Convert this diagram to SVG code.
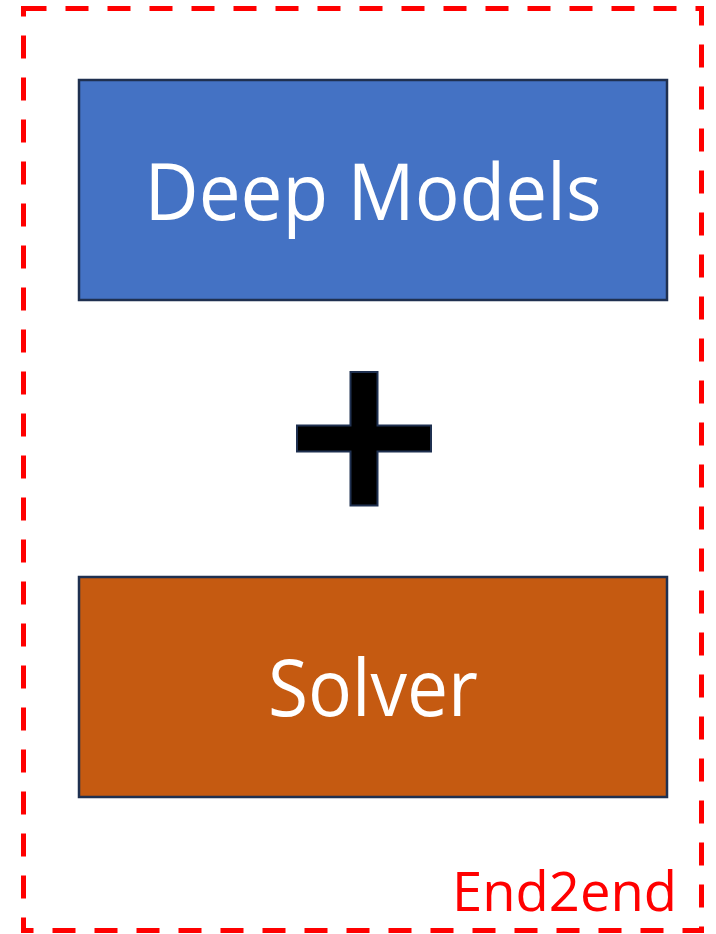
<svg xmlns="http://www.w3.org/2000/svg" width="716" height="934" viewBox="0 0 716 934">
  <style>
    .frame { fill: none; stroke: #FF0000; stroke-width: 5; stroke-dasharray: 23 19; }
    .box { stroke: #1F3050; stroke-width: 2.5; }
    .label { font-family: "Open Sans", "Liberation Sans", sans-serif; fill: #FFFFFF; text-anchor: middle; }
    .tag { font-family: "Open Sans", "Liberation Sans", sans-serif; fill: #FF0000; }
  </style>
  <rect width="716" height="934" fill="#FFFFFF"/>

  <!-- dashed boundary -->
  <g id="end2end">
    <rect class="frame" x="23.5" y="8.5" width="678" height="922"/>
    <text class="tag" x="452" y="911" font-size="55" textLength="225" lengthAdjust="spacingAndGlyphs">End2end</text>
  </g>

  <g id="deep-models">
    <rect class="box" x="79" y="80" width="588" height="220" fill="#4472C4"/>
    <text class="label" x="373" y="220" font-size="78" textLength="457" lengthAdjust="spacingAndGlyphs">Deep Models</text>
  </g>

  <g id="plus">
    <path d="M350.5 372 H377.5 V425.5 H431 V451.5 H377.5 V505.5 H350.5 V451.5 H297 V425.5 H350.5 Z" fill="#000000" stroke="#1F3050" stroke-width="2"/>
  </g>

  <g id="solver">
    <rect class="box" x="79" y="577" width="588" height="220" fill="#C55A11"/>
    <text class="label" x="373" y="716" font-size="78" textLength="210" lengthAdjust="spacingAndGlyphs">Solver</text>
  </g>
</svg>
